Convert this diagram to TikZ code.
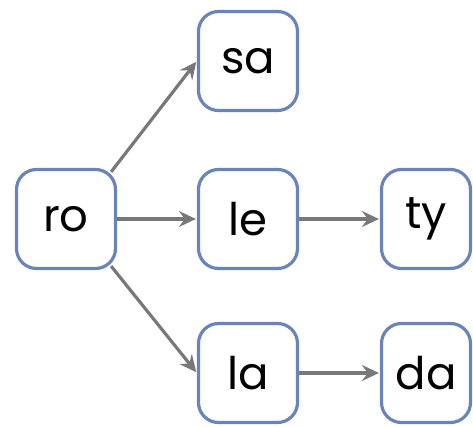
\documentclass[tikz,border=0pt]{standalone}
\usepackage{fontspec}
\setmainfont{Poppins}
\usetikzlibrary{arrows.meta}
\definecolor{boxblue}{HTML}{6A84B8}
\definecolor{arrowgray}{HTML}{787878}
\begin{document}
\begin{tikzpicture}[x=1pt,y=1pt,
  wordbox/.style={draw=boxblue, line width=3.2pt, rounded corners=20pt, fill=white,
    minimum width=99pt, minimum height=99pt, inner sep=0pt,
    font=\fontsize{45}{54}\selectfont},
  narrowbox/.style={wordbox, minimum width=89pt},
  conn/.style={draw=arrowgray, line width=3.2pt,
    -{Stealth[length=17pt,width=16pt,inset=6pt]}, shorten >=1pt}]
\useasboundingbox (0,0) rectangle (473,426);
\node[wordbox] (ro) at (66,207) {ro};
\node[wordbox] (sa) at (248,365) {sa};
\node[wordbox] (le) at (248,207) {le};
\node[narrowbox] (ty) at (426,207) {ty};
\node[wordbox] (la) at (248,53) {la};
\node[narrowbox] (da) at (426,53) {da};
\draw[conn] (ro.north east) ++(-6pt,-4pt) coordinate (rone) -- (sa.west);
\draw[conn] (ro.east) -- (le.west);
\draw[conn] (ro.south east) ++(-6pt,4pt) coordinate (rose) -- (la.west);
\draw[conn] (le.east) -- (ty.west);
\draw[conn] (la.east) -- (da.west);
\end{tikzpicture}
\end{document}
